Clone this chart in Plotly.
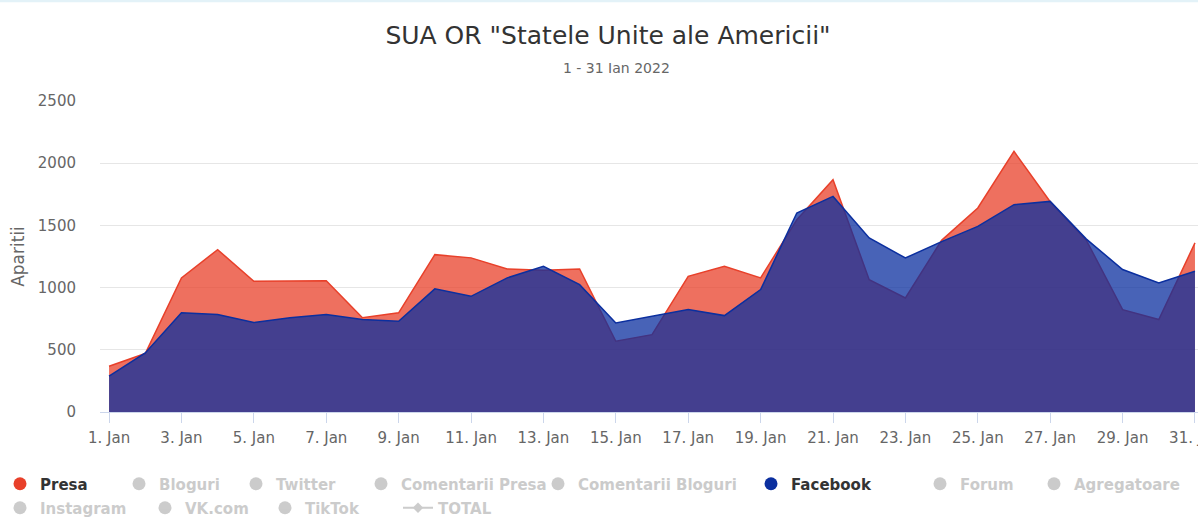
import plotly.graph_objects as go

# ---------------- data ----------------
days = list(range(1, 32))
dates = [f"2022-01-{d:02d}" for d in days]

presa = [368, 470, 1078, 1305, 1051, 1051, 1055, 757, 797, 1265, 1239, 1150, 1140, 1150,
         569, 622, 1091, 1171, 1078, 1545, 1867, 1064, 917, 1380, 1640, 2095, 1690, 1380,
         823, 743, 1359]
facebook = [288, 475, 797, 783, 719, 757, 783, 743, 729, 990, 930, 1078, 1171, 1024,
            716, 769, 823, 775, 984, 1600, 1733, 1399, 1238, 1370, 1492, 1667, 1693, 1390,
            1145, 1038, 1131]

tick_days = list(range(1, 32, 2))
tick_vals = [f"2022-01-{d:02d}" for d in tick_days]
tick_text = [f"{d}. Jan" for d in tick_days]
y_ticks = [0, 500, 1000, 1500, 2000, 2500]

title_text = 'SUA OR "Statele Unite ale Americii"'
subtitle_text = "1 - 31 Ian 2022"
y_title = "Aparitii"

# ---------------- style ----------------
W, H = 1198, 517
T_MARGIN, B_MARGIN = 101, 104.5
PLOT_H = H - T_MARGIN - B_MARGIN
FONT = "DejaVu Sans"
RED = "#e8402a"
BLUE = "#0b2f9f"
RED_FILL = "rgba(232,64,42,0.75)"
BLUE_FILL = "rgba(11,47,159,0.75)"
GREY = "#999999"


def paper_y(px):
    return 1 + (T_MARGIN - px) / PLOT_H


fig = go.Figure()

# area series (Presa below, Facebook on top)
fig.add_trace(go.Scatter(x=dates, y=presa, name="Presa", mode="lines", fill="tozeroy",
                         fillcolor=RED_FILL, line=dict(color=RED, width=1.5),
                         legendgroup="presa", showlegend=False))
fig.add_trace(go.Scatter(x=dates, y=facebook, name="Facebook", mode="lines", fill="tozeroy",
                         fillcolor=BLUE_FILL, line=dict(color=BLUE, width=1.5),
                         legendgroup="facebook", showlegend=False))

# legend layout: (name, dot centre x, row y, kind)
legend_items = [
    ("Presa", 21, 484, "presa"),
    ("Bloguri", 141, 484, "hidden"),
    ("Twitter", 258, 484, "hidden"),
    ("Comentarii Presa", 383, 484, "hidden"),
    ("Comentarii Bloguri", 560, 484, "hidden"),
    ("Facebook", 773, 484, "facebook"),
    ("Forum", 942, 484, "hidden"),
    ("Agregatoare", 1056, 484, "hidden"),
    ("Instagram", 21, 508, "hidden"),
    ("VK.com", 167, 508, "hidden"),
    ("TikTok", 287, 508, "hidden"),
    ("TOTAL", 420, 508, "total"),
]

legend_layouts = {}
for i, (name, cx, cy, kind) in enumerate(legend_items):
    lname = "legend" if i == 0 else f"legend{i + 1}"
    if kind == "presa":
        tr = go.Scatter(x=[None], y=[None], mode="markers", name=name, legendgroup="presa",
                        marker=dict(color=RED, size=13))
        fcol = "#333333"
    elif kind == "facebook":
        tr = go.Scatter(x=[None], y=[None], mode="markers", name=name, legendgroup="facebook",
                        marker=dict(color=BLUE, size=13))
        fcol = "#333333"
    elif kind == "total":
        tr = go.Scatter(x=[None], y=[None], mode="lines+markers", name=name, visible="legendonly",
                        marker=dict(color=GREY, size=8, symbol="diamond"),
                        line=dict(color=GREY, width=2))
        fcol = GREY
    else:
        tr = go.Scatter(x=[None], y=[None], mode="markers", name=name, visible="legendonly",
                        marker=dict(color=GREY, size=13))
        fcol = GREY
    tr.legend = lname
    tr.showlegend = True
    fig.add_trace(tr)
    legend_layouts[lname] = dict(
        visible=True,
        x=(cx - 22) / W, y=1 - cy / H, xref="container", yref="container",
        xanchor="left", yanchor="middle", orientation="h",
        bgcolor="rgba(0,0,0,0)", borderwidth=0, itemwidth=30,
        font=dict(family=FONT, size=15, color=fcol, weight="bold"),
        itemclick=False, itemdoubleclick=False,
    )

fig.update_layout(
    width=W, height=H,
    showlegend=True,
    margin=dict(l=100, r=0, t=T_MARGIN, b=B_MARGIN, pad=0, autoexpand=False),
    paper_bgcolor="white", plot_bgcolor="white",
    font=dict(family=FONT, color="#666666", size=15),
    title=dict(text=title_text, x=608 / W, xanchor="center", y=1 - 35 / H, yanchor="middle",
               xref="container", yref="container",
               font=dict(family=FONT, size=25, color="#333333")),
    annotations=[dict(text=subtitle_text, x=(616 - 100) / 1098, y=paper_y(68),
                      xref="paper", yref="paper",
                      xanchor="center", yanchor="middle", showarrow=False,
                      font=dict(family=FONT, size=14, color="#666666"))],
    xaxis=dict(
        type="date", range=["2021-12-31 18:00", "2022-01-31 02:00"],
        tickvals=tick_vals, ticktext=tick_text, tickangle=0,
        showgrid=False, showline=True, linecolor="#ccd6eb", linewidth=1,
        ticks="outside", ticklen=10, tickcolor="#ccd6eb",
        ticklabelstandoff=2, ticklabeloverflow="allow", automargin=False,
        tickfont=dict(family=FONT, size=15, color="#666666"),
        zeroline=False, fixedrange=True,
    ),
    yaxis=dict(
        range=[0, 2500], tickvals=y_ticks,
        showgrid=True, gridcolor="#e6e6e6", gridwidth=1,
        zeroline=False, showline=False, automargin=False,
        ticks="outside", ticklen=20, tickcolor="rgba(0,0,0,0)",
        tickfont=dict(family=FONT, size=15, color="#666666"),
        title=dict(text=y_title, standoff=8, font=dict(family=FONT, size=17, color="#666666")),
        fixedrange=True,
    ),
    shapes=[dict(type="rect", xref="paper", yref="paper", x0=-0.1, x1=1.01,
                 y0=paper_y(2), y1=paper_y(-1), line=dict(width=0),
                 fillcolor="#e3f2f8", layer="above")],
    **legend_layouts,
)

fig.write_html("out.html", config={"displayModeBar": False},
               post_script="document.body.style.margin='0px';")
